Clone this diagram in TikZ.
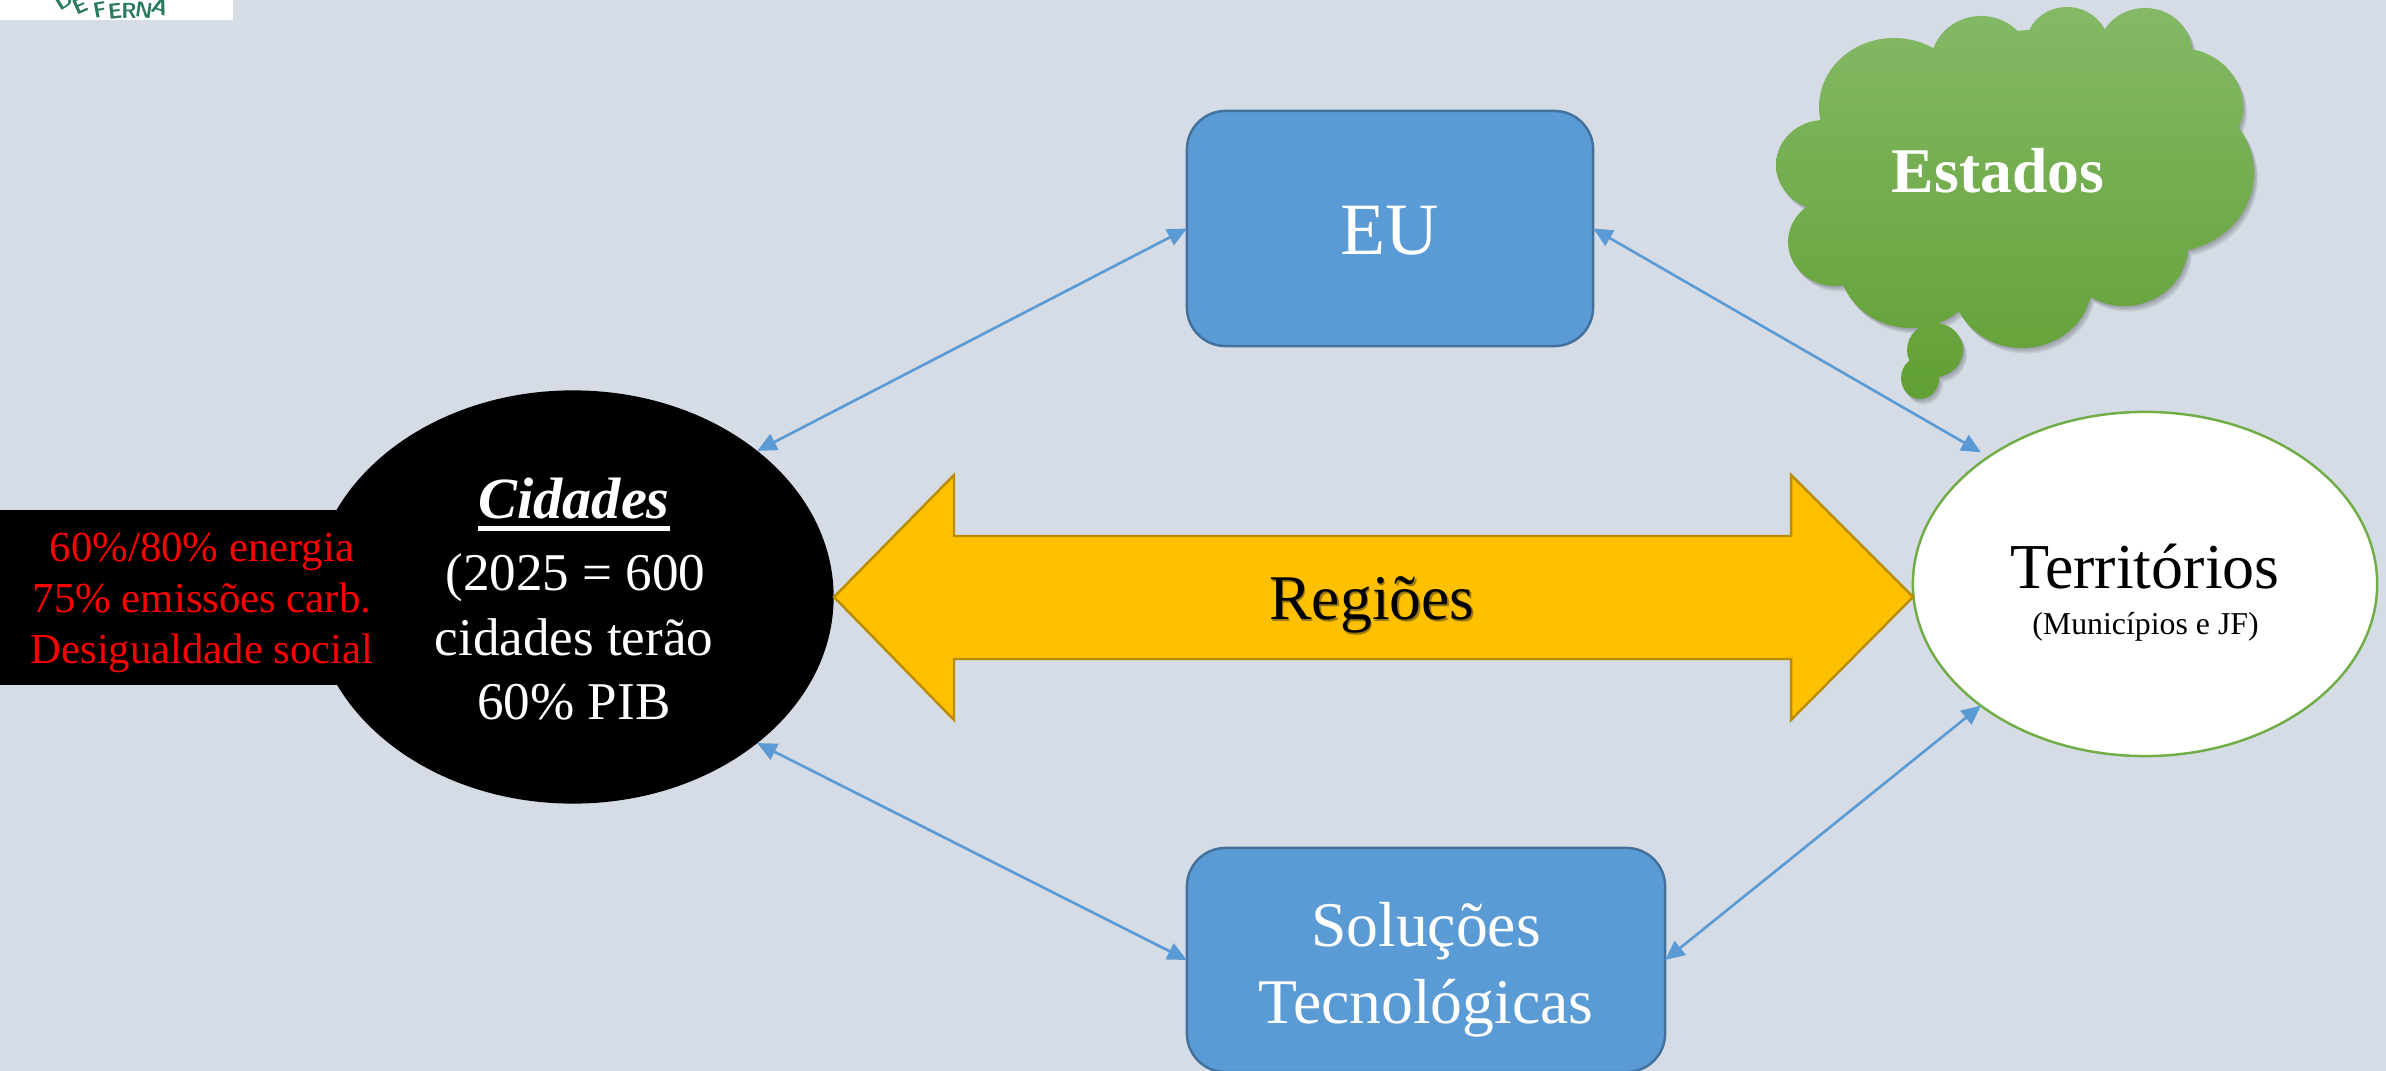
\documentclass[tikz,border=0pt]{standalone}
\usepackage{fontspec}
\setmainfont{Liberation Serif}
\usetikzlibrary{arrows.meta,shapes.geometric}
\definecolor{bgc}{HTML}{D6DCE5}
\definecolor{boxc}{HTML}{5B9BD5}
\definecolor{boxl}{HTML}{41719C}
\definecolor{goldc}{HTML}{FFC000}
\definecolor{goldl}{HTML}{BC8C00}
\definecolor{goldsh}{HTML}{9A7A10}
\definecolor{leaf}{HTML}{70AD47}
\definecolor{leaftop}{HTML}{84B966}
\definecolor{leafbot}{HTML}{61A034}
\definecolor{logog}{HTML}{2A7A5C}
\newcommand{\pxf}[1]{\fontsize{#1}{#1}\selectfont}
\newcommand{\cloudlobes}{
  (1894,107) ellipse (75 and 69)
  (1981,63) ellipse (50 and 47)
  (2067,45) ellipse (41 and 38)
  (2145,52) ellipse (47 and 44)
  (2179,107) ellipse (64 and 59)
  (2169,173) ellipse (85 and 79)
  (2124,246) ellipse (64 and 60)
  (2022,283) ellipse (70 and 65)
  (1911,260) ellipse (73 and 68)
  (1835,242) ellipse (47 and 44)
  (1824,165) ellipse (48 and 45)
  (2026,170) ellipse (150 and 110)
  (1890,190) ellipse (70 and 70)
  (2110,100) ellipse (60 and 50)
  (2030,70) ellipse (55 and 40)
  (1935,350) ellipse (28 and 27)
  (1920,378) ellipse (19 and 21)
}
\tikzset{
  boxnode/.style={draw=boxl,fill=boxc,line width=0.7pt,rounded corners=11pt,inner sep=0pt,outer sep=0pt},
  white txt/.style={text=white,inner sep=0pt,anchor=base},
  black txt/.style={text=black,inner sep=0pt,anchor=base},
  red txt/.style={text=red,inner sep=0pt,anchor=base,font=\pxf{12.15}},
  link/.style={draw=boxc,line width=0.75pt,{Triangle[length=5.5pt,width=5pt]}-{Triangle[length=5.5pt,width=5pt]}},
  logo letter/.style={text=logog,font=\sffamily\bfseries\pxf{6.2},inner sep=0pt},
}
\begin{document}
\begin{tikzpicture}[x=0.01cm,y=-0.01cm]
\useasboundingbox (0,0) rectangle (2386,1071);
\fill[bgc] (0,0) rectangle (2386,1071);
% logo fragment
\fill[white] (0,0) rectangle (233,20);
\begin{scope}
\clip (0,0) rectangle (233,20);
\node[logo letter,rotate=32] (l1) at (64,1) {D};
\node[logo letter,rotate=24] (l2) at (80,6) {E};
\node[logo letter,rotate=10] (l3) at (100,10) {F};
\node[logo letter,rotate=6] (l4) at (115,11) {E};
\node[logo letter,rotate=0] (l5) at (129,11) {R};
\node[logo letter,rotate=-8] (l6) at (144,10) {N};
\node[logo letter,rotate=-18] (l7) at (160,7) {A};
\end{scope}
% black band and ellipse
\fill[black] (0,510) rectangle (345,685);
\node[ellipse,fill=black,minimum width=5.21cm,minimum height=4.13cm,inner sep=0pt,outer sep=0pt] (cid) at (573,597) {};
\node[white txt,font=\bfseries\itshape\pxf{16.6}] (c1) at (574,519) {Cidades};
\fill[white] (478,526) rectangle (670,531);
\node[white txt,font=\pxf{15.1}] (c2) at (575.5,591) {(2025 = 600};
\node[white txt,font=\pxf{15.1}] (c3) at (574,656) {cidades terão};
\node[white txt,font=\pxf{15.1}] (c4) at (574,720) {60\% PIB};
\node[red txt] (r1) at (202,562) {60\%/80\% energia};
\node[red txt] (r2) at (202,613) {75\% emissões carb.};
\node[red txt] (r3) at (202,664) {Desigualdade social};
% boxes
\node[boxnode,minimum width=4.06cm,minimum height=2.35cm] (eu) at (1390,228.5) {};
\node[white txt,font=\pxf{21}] (eut) at (1390,255) {EU};
\node[boxnode,minimum width=4.78cm,minimum height=2.24cm] (sol) at (1426,960) {};
\node[white txt,font=\pxf{18.1}] (s1) at (1426,946) {Soluções};
\node[white txt,font=\pxf{18.1}] (s2) at (1426,1023) {Tecnológicas};
% territorios
\node[ellipse,draw=leaf,fill=white,line width=0.7pt,minimum width=4.64cm,minimum height=3.44cm,inner sep=0pt,outer sep=0pt] (ter) at (2145,584) {};
\node[black txt,font=\pxf{18.2}] (t1) at (2145,589) {Territórios};
\node[black txt,font=\pxf{9.05}] (t2) at (2145.5,634.5) {(Municípios e JF)};
% double arrow
\draw[draw=goldl,fill=goldc,line width=0.7pt,line join=miter] (834,597) -- (954,475) -- (954,536) -- (1791,536) -- (1791,475) -- (1913,597) -- (1791,720) -- (1791,659) -- (954,659) -- (954,720) -- cycle;
\node[text=goldsh,inner sep=0pt,anchor=base,font=\pxf{18.1}] (regs) at (1373.5,621.5) {Regiões};
\node[black txt,font=\pxf{18.1}] (reg) at (1372,620) {Regiões};
% links
\draw[link] (cid.north east) -- (eu.west);
\draw[link] (eu.east) -- ([yshift=0.1cm]ter.north west);
\draw[link] (cid.south east) -- (sol.west);
\draw[link] (sol.east) -- (ter.south west);
% cloud
\foreach \d in {4,3,2,1}{
  \fill[black,opacity=0.07,xshift=\d*0.01cm,yshift=-\d*0.014cm] \cloudlobes;
}
\shade[top color=leaftop,middle color=leaf,bottom color=leafbot] \cloudlobes;
\node[text=white,inner sep=0pt,anchor=base,font=\bfseries\pxf{18.1}] (est) at (1998,193) {Estados};
\end{tikzpicture}
\end{document}
